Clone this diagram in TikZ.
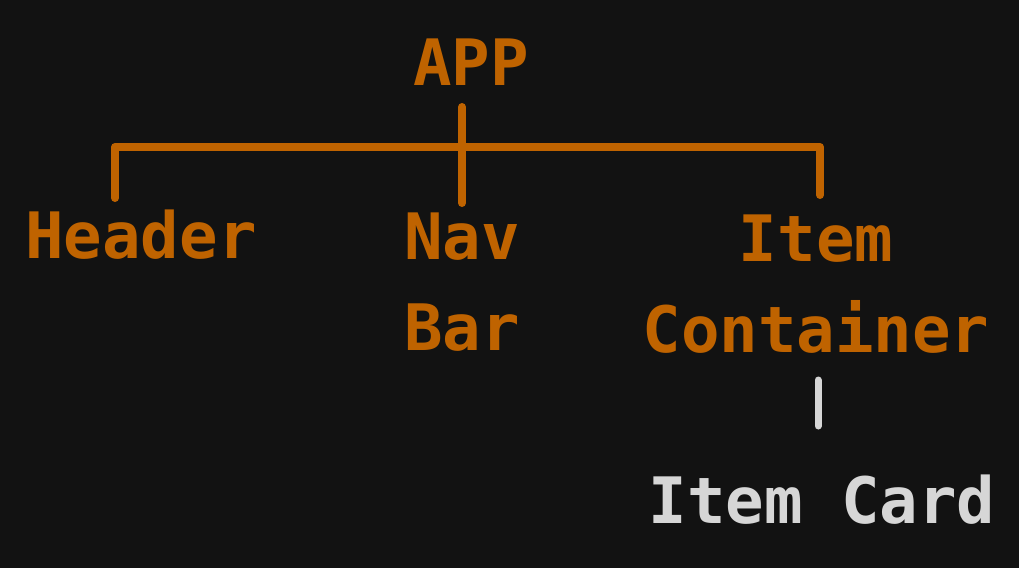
\documentclass[tikz,border=0pt]{standalone}
\usepackage{fontspec}
\setmonofont{DejaVu Sans Mono}
\definecolor{bg}{HTML}{121212}
\definecolor{org}{HTML}{BF6300}
\definecolor{lgray}{HTML}{D6D6D6}
\tikzset{
  lbl/.style={font=\ttfamily\bfseries\fontsize{64}{91}\selectfont, text=org, inner sep=0pt, anchor=base, align=center},
  wlbl/.style={lbl, text=lgray},
  link/.style={draw=org, line width=8pt, line cap=round, line join=round},
  wlink/.style={draw=lgray, line width=7pt, line cap=round}
}
\begin{document}
\begin{tikzpicture}[x=1pt,y=-1pt]
\fill[bg] (0,0) rectangle (1019,568);
\useasboundingbox (0,0) rectangle (1019,568);
\node[lbl] (app) at (471,85) {APP};
\node[lbl] (header) at (141,258) {Header};
\node[lbl] (nav) at (462,350) {Nav\\Bar};
\node[lbl] (item) at (816,352) {Item\\Container};
\node[wlbl] (card) at (822,523) {Item Card};
\coordinate (hubtop) at (462,107);
\coordinate (hubbot) at (462,203);
\coordinate (busL) at (115,147);
\coordinate (busR) at (820,147);
\coordinate (legL) at (115,198);
\coordinate (legR) at (820,195);
\coordinate (ctop) at (818,380);
\coordinate (cbot) at (818,426);
\draw[link] (legL) -- (busL) -- (busR) -- (legR);
\draw[link] (hubtop) -- (hubbot);
\draw[wlink] (ctop) -- (cbot);
\end{tikzpicture}
\end{document}
